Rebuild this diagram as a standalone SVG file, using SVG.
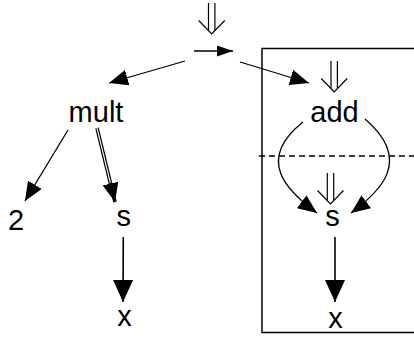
<svg xmlns="http://www.w3.org/2000/svg" width="414" height="341" viewBox="0 0 414 341">
  <style>
    .lbl { font-family: "Liberation Sans", Arial, sans-serif; font-size: 29px; fill: #000; text-anchor: middle; }
    .edge { stroke: #000; stroke-width: 1.3; fill: none; }
    .thick { stroke: #000; stroke-width: 1.6; fill: none; }
    .dbl { stroke: #000; stroke-width: 1.2; fill: none; }
  </style>
  <defs>
    <marker id="headL" viewBox="0 0 22 20" refX="22" refY="10" markerWidth="22" markerHeight="20" markerUnits="userSpaceOnUse" orient="auto">
      <path d="M0,0 L22,10 L0,20 Z" fill="#000"/>
    </marker>
    <marker id="headM" viewBox="0 0 19 16" refX="19" refY="8" markerWidth="19" markerHeight="16" markerUnits="userSpaceOnUse" orient="auto">
      <path d="M0,0 L19,8 L0,16 Z" fill="#000"/>
    </marker>
    <marker id="headS" viewBox="0 0 16 11" refX="16" refY="5.5" markerWidth="16" markerHeight="11" markerUnits="userSpaceOnUse" orient="auto">
      <path d="M0,0 L16,5.5 L0,11 Z" fill="#000"/>
    </marker>
    <!-- open double-shafted down arrow -->
    <g id="dblArrow" class="dbl">
      <line x1="-3.2" y1="0" x2="-3.2" y2="27.5"/>
      <line x1="3.2" y1="0" x2="3.2" y2="27.5"/>
      <polyline points="-13,17.5 0,31 13,17.5"/>
    </g>
  </defs>

  <!-- frame around the right-hand subtree -->
  <rect id="frame" x="262" y="48.5" width="160" height="284" fill="none" stroke="#000" stroke-width="1.5"/>
  <line id="divider" x1="259" y1="156" x2="414" y2="156" stroke="#000" stroke-width="1.3" stroke-dasharray="6,4"/>

  <g id="connectors">
    <use href="#dblArrow" transform="translate(211.7,3)"/>
    <use href="#dblArrow" transform="translate(334.2,61)"/>
    <use href="#dblArrow" transform="translate(330.5,173)"/>
    <line class="edge" x1="194" y1="51" x2="233" y2="51" marker-end="url(#headS)"/>
    <line class="edge" x1="185" y1="61" x2="109" y2="83" marker-end="url(#headM)"/>
    <line class="edge" x1="240" y1="62" x2="309" y2="83" marker-end="url(#headM)"/>
    <line class="edge" x1="68" y1="130" x2="25" y2="201" marker-end="url(#headM)"/>
    <!-- doubled edge mult to s -->
    <line x1="97" y1="128" x2="115" y2="202" stroke="#000" stroke-width="3.6" marker-end="url(#headM)"/>
    <line x1="97" y1="128" x2="110.4" y2="183" stroke="#fff" stroke-width="1.1"/>
    <line class="thick" x1="123.3" y1="237" x2="123" y2="302" marker-end="url(#headL)"/>
    <path class="edge" d="M303,122 C255,160 287,191 317,213" marker-end="url(#headM)"/>
    <path class="edge" d="M365,119 C413,160 381,191 351,213" marker-end="url(#headM)"/>
    <line class="thick" x1="335" y1="237" x2="335" y2="302" marker-end="url(#headL)"/>
  </g>

  <g id="mult"><text class="lbl" x="96" y="122">mult</text></g>
  <g id="add"><text class="lbl" x="334.5" y="121.5">add</text></g>
  <g id="two"><text class="lbl" x="16" y="230">2</text></g>
  <g id="s-left"><text class="lbl" x="123.7" y="225.5">s</text></g>
  <g id="x-left"><text class="lbl" x="124.5" y="326">x</text></g>
  <g id="s-right"><text class="lbl" x="332.5" y="226">s</text></g>
  <g id="x-right"><text class="lbl" x="335.5" y="328">x</text></g>
</svg>
